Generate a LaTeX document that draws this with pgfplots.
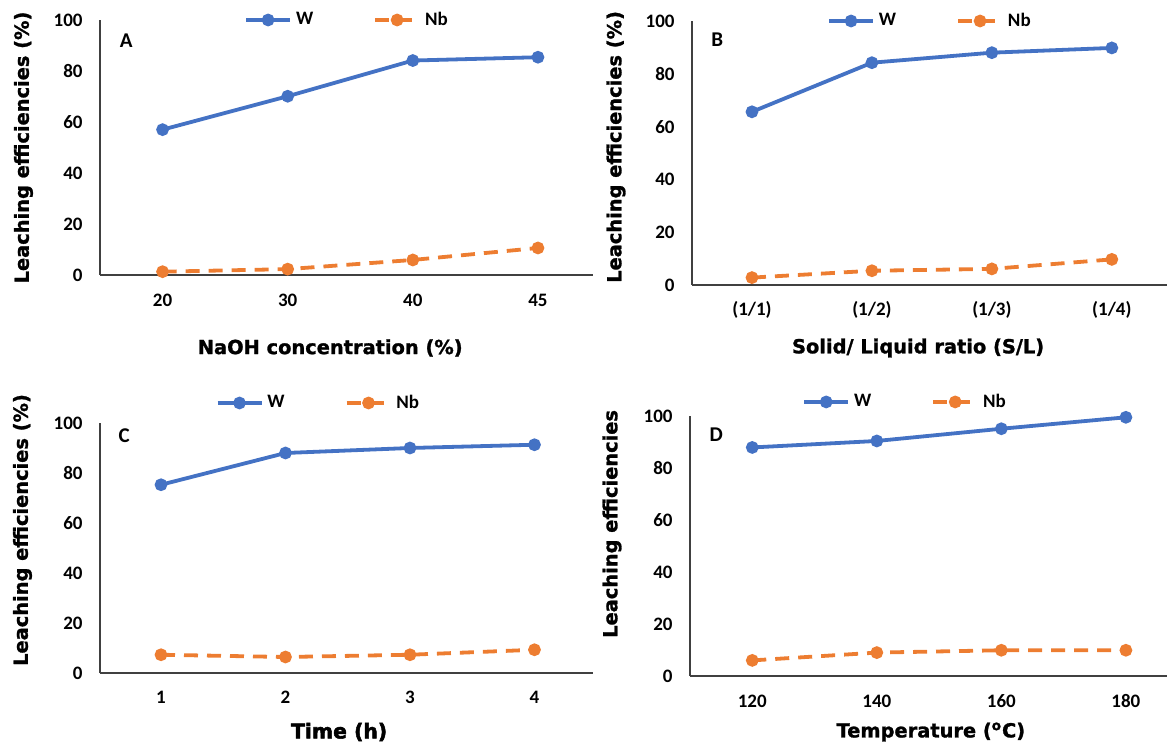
\documentclass[border=0pt]{standalone}
\usepackage{pgfplots}
\pgfplotsset{compat=1.18}
\usepackage{pgfplotstable}
\usepackage{fontspec}
\setmainfont{Carlito}
\newfontfamily\labfont{DejaVu Sans}[BoldFeatures={FakeBold=1.3}]
\newfontfamily\heavyfont{DejaVu Sans}[BoldFeatures={FakeBold=2.5}]
\definecolor{cW}{HTML}{4472C4}
\definecolor{cN}{HTML}{ED7D31}
\definecolor{axc}{HTML}{404040}

\pgfplotstableread{
x W Nb
0 57.0 1.3
1 70.1 2.3
2 84.1 5.9
3 85.4 10.6
}\dataA
\pgfplotstableread{
x W Nb
0 65.6 2.8
1 84.2 5.4
2 88.0 6.1
3 89.8 9.7
}\dataB
\pgfplotstableread{
x W Nb
0 75.3 7.3
1 88.0 6.4
2 90.0 7.3
3 91.3 9.3
}\dataC
\pgfplotstableread{
x W Nb
0 87.9 6.0
1 90.4 9.0
2 95.1 9.9
3 99.5 9.9
}\dataD

\tikzset{plab/.style={font=\fontsize{10.5}{11}\selectfont\bfseries, anchor=center}}
\pgfplotsset{
  panel/.style={
    scale only axis,
    anchor=south west,
    axis x line*=bottom,
    axis y line*=left,
    x axis line style={-, draw=axc, line width=0.8pt},
    y axis line style={-, draw=axc, line width=0.8pt},
    major tick length=0pt,
    ymin=0, ymax=100,
    ytick={0,20,40,60,80,100},
    xtick={0,1,2,3},
    /pgf/number format/assume math mode=true,
    ticklabel style={font=\fontsize{9.5}{10}\selectfont\bfseries},
    yticklabel style={anchor=east, inner sep=0pt, xshift=-8.5pt},
    clip=false,
    legend columns=2,
    legend cell align=left,
    legend style={draw=none, fill=none, anchor=center,
      font=\fontsize{9.5}{10}\selectfont\bfseries,
      /tikz/every even column/.append style={column sep=28pt}},
    legend image code/.code={\draw[mark repeat=2,mark phase=2] plot coordinates {(0pt,0pt) (11pt,0pt) (22pt,0pt)};},
  },
  xlab/.style 2 args={every axis x label/.style={at={(rel axis cs:#1,0)}, yshift=#2, anchor=center, font=\labfont\bfseries\fontsize{9.7}{11}\selectfont}},
  ylab/.style 2 args={every axis y label/.style={at={(rel axis cs:0,#2)}, xshift=#1, rotate=90, anchor=center, font=\labfont\bfseries\fontsize{9.7}{11}\selectfont}},
  sW/.style={color=cW, line width=1.9pt, mark=*, mark size=2.2pt},
  sN/.style={color=cN, line width=1.9pt, dash pattern=on 7pt off 4.5pt, mark=*, mark size=2.2pt, mark options={solid}},
}

\begin{document}
\begin{tikzpicture}
\useasboundingbox (0,0) rectangle (583.5pt,372pt);
% Panel A
\begin{axis}[panel, at={(50pt,234.5pt)}, width=246.5pt, height=127.5pt,
  xmin=-0.5, xmax=3.44, xticklabels={20,30,40,45},
  xticklabel style={anchor=center, yshift=-12.5pt},
  xlab={0.467}{-36.5pt}, ylab={-38.25pt}{0.5},
  xlabel={NaOH concentration (\%)}, ylabel={Leaching efficiencies (\%)},
  legend style={at={(0.503,1.0)}}]
\addplot[sW] table[x=x,y=W]{\dataA};
\addlegendentry{W}
\addplot[sN] table[x=x,y=Nb]{\dataA};
\addlegendentry{Nb}
\node[plab] at (rel axis cs:0.053,0.92) {A};
\end{axis}
% Panel B
\begin{axis}[panel, at={(346pt,229.5pt)}, width=237.5pt, height=132pt,
  xmin=-0.5, xmax=3.46, xticklabels={(1/1),(1/2),(1/3),(1/4)},
  xticklabel style={anchor=center, yshift=-12.5pt},
  xlab={0.476}{-31.5pt}, ylab={-38pt}{0.523},
  xlabel={Solid/ Liquid ratio (S/L)}, ylabel={Leaching efficiencies (\%)},
  legend style={at={(0.503,1.0)}}]
\addplot[sW] table[x=x,y=W]{\dataB};
\addlegendentry{W}
\addplot[sN] table[x=x,y=Nb]{\dataB};
\addlegendentry{Nb}
\node[plab] at (rel axis cs:0.053,0.93) {B};
\end{axis}
% Panel C
\begin{axis}[panel, at={(50pt,35.5pt)}, width=246.5pt, height=125pt,
  xmin=-0.49, xmax=3.47, xticklabels={1,2,3,4},
  xticklabel style={anchor=center, yshift=-12pt},
  xlab={0.485}{-29.5pt}, ylab={-38.75pt}{0.572},
  xlabel={\heavyfont\bfseries\fontsize{10.2}{11}\selectfont Time (h)}, ylabel={Leaching efficiencies (\%)},
  legend style={at={(0.445,1.08)}}]
\addplot[sW] table[x=x,y=W]{\dataC};
\addlegendentry{W}
\addplot[sN] table[x=x,y=Nb]{\dataC};
\addlegendentry{Nb}
\node[plab] at (rel axis cs:0.049,0.948) {C};
\end{axis}
% Panel D
\begin{axis}[panel, at={(345pt,34pt)}, width=238.5pt, height=130pt,
  xmin=-0.5, xmax=3.33, xticklabels={120,140,160,180},
  xticklabel style={anchor=center, yshift=-12.5pt},
  xlab={0.505}{-28pt}, ylab={-39pt}{0.585},
  xlabel={Temperature (\textsuperscript{o}C)}, ylabel={Leaching efficiencies},
  legend style={at={(0.453,1.054)}}]
\addplot[sW] table[x=x,y=W]{\dataD};
\addlegendentry{W}
\addplot[sN] table[x=x,y=Nb]{\dataD};
\addlegendentry{Nb}
\node[plab] at (rel axis cs:0.055,0.927) {D};
\end{axis}
\end{tikzpicture}
\end{document}
